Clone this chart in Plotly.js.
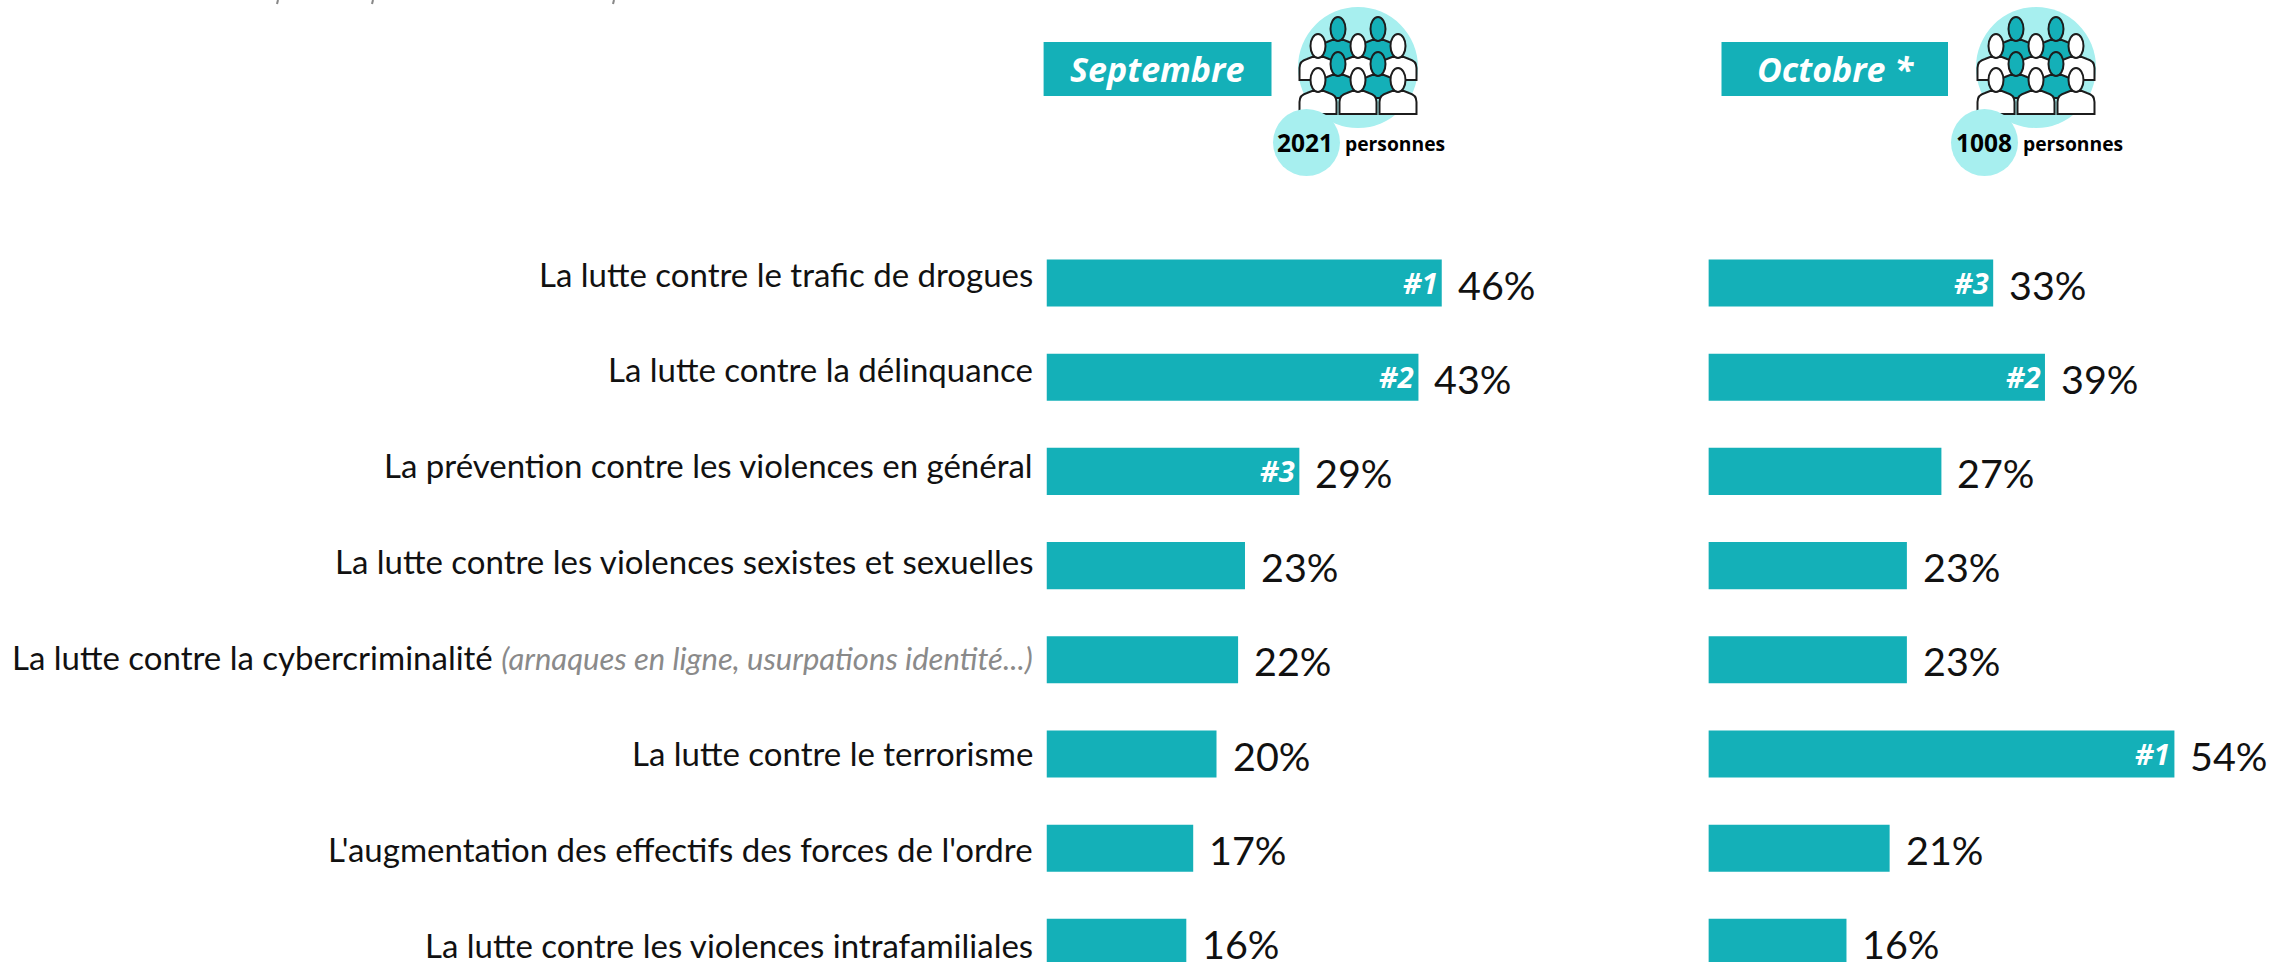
<!DOCTYPE html>
<html><head><meta charset="utf-8">
<script src="https://cdn.plot.ly/plotly-3.0.1.min.js"></script>
<style>html,body{margin:0;padding:0;background:#fff}#c{width:2276px;height:962px}svg text{font-variant-ligatures:none}</style></head>
<body><div id="c"></div>
<script>
const categories = ["La lutte contre le trafic de drogues","La lutte contre la délinquance","La prévention contre les violences en général","La lutte contre les violences sexistes et sexuelles","La lutte contre la cybercriminalité","La lutte contre le terrorisme","L'augmentation des effectifs des forces de l'ordre","La lutte contre les violences intrafamiliales"];
const categoryNotes = ["","","","","(arnaques en ligne, usurpations identité...)","","",""];
const septembre = [45.8,43.1,29.3,23,22.2,19.7,17,16.2];
const octobre = [33,39,27,23,23,54,21,16];
const rangSeptembre = ["#1","#2","#3","","","","",""];
const rangOctobre = ["#3","#2","","","","#1","",""];
const panels = ["Septembre","Octobre *"];
const effectifs = ["2021","1008"];

const W=2276,H=962,TEAL="#14B0B8",LIGHT="#A7EFEF",INK="#1c1c1c";
const FONT="Lato,sans-serif", NUM="Lato,sans-serif", BOLD="'Open Sans',sans-serif";
const PXPER=8.63;
const px=x=>x/W, py=y=>1-y/H;
const P=(x,y)=>px(x).toFixed(5)+","+py(y).toFixed(5);
function ell(cx,cy,rx,ry){const k=.5523;
 return `M${P(cx-rx,cy)} C${P(cx-rx,cy-k*ry)} ${P(cx-k*rx,cy-ry)} ${P(cx,cy-ry)} C${P(cx+k*rx,cy-ry)} ${P(cx+rx,cy-k*ry)} ${P(cx+rx,cy)} C${P(cx+rx,cy+k*ry)} ${P(cx+k*rx,cy+ry)} ${P(cx,cy+ry)} C${P(cx-k*rx,cy+ry)} ${P(cx-rx,cy+k*ry)} ${P(cx-rx,cy)} Z`;}
function person(cx,top,fill,shapes){
 const headB=top+23, b=top+46;
 shapes.push({type:"path",xref:"paper",yref:"paper",fillcolor:fill,line:{color:INK,width:2},
  path:`M${P(cx-18.5,b)} L${P(cx-18.5,headB+11)} C${P(cx-18.5,headB+5)} ${P(cx-15,headB+3)} ${P(cx-11,headB+2)} L${P(cx-6,headB)} L${P(cx+6,headB)} L${P(cx+11,headB+2)} C${P(cx+15,headB+3)} ${P(cx+18.5,headB+5)} ${P(cx+18.5,headB+11)} L${P(cx+18.5,b)} Z`});
 shapes.push({type:"path",xref:"paper",yref:"paper",fillcolor:fill,line:{color:INK,width:2},path:ell(cx,top+12,7.5,12)});
}
function icon(cx,shapes){
 const c=(x0,y0,x1,y1)=>shapes.push({type:"circle",xref:"paper",yref:"paper",x0:px(x0),x1:px(x1),y0:py(y1),y1:py(y0),fillcolor:LIGHT,line:{width:0}});
 c(cx-60,7,cx+60,128);
 [[17,[-20,20],TEAL],[34,[-40,0,40],"#fff"],[52,[-20,20],TEAL],[68,[-40,0,40],"#fff"]].forEach(([t,xs,f])=>xs.forEach(d=>person(cx+d,t,f,shapes)));
 c(cx-85,109,cx-18,176);
}
const shapes=[];
[[1043.6,1271.5],[1721.5,1948]].forEach(([a,b])=>shapes.push({type:"rect",xref:"paper",yref:"paper",x0:px(a),x1:px(b),y0:py(96),y1:py(42),fillcolor:TEAL,line:{width:0}}));
icon(1358,shapes); icon(2036,shapes);
[277,372,613].forEach(x=>shapes.push({type:"line",xref:"paper",yref:"paper",x0:px(x+1),x1:px(x),y0:py(0),y1:py(4),line:{color:"#888",width:2}}));

const annotations=[];
categories.forEach((c,i)=>{
 const t=categoryNotes[i]?`${c} <span style="color:#8a8a8a;font-size:31px"><i>${categoryNotes[i]}</i></span>`:c;
 annotations.push({xref:"paper",yref:"y",x:px(1033.5),y:c,text:t,showarrow:false,xanchor:"right",yanchor:"middle",borderpad:0,yshift:9.5-i*1.66,font:{family:FONT,size:33,color:"#111"}});
});
function labels(vals,ranks,xref){
 vals.forEach((v,i)=>{
  annotations.push({xref,yref:"y",x:v,y:categories[i],text:Math.round(v)+"%",showarrow:false,xanchor:"left",yanchor:"middle",xshift:14,yshift:-1,font:{family:NUM,size:39.5,color:"#111"}});
  if(ranks[i])annotations.push({xref,yref:"y",x:v,y:categories[i],text:"<b><i>"+ranks[i]+"</i></b>",showarrow:false,xanchor:"right",yanchor:"middle",xshift:-2,yshift:1,font:{family:BOLD,size:29,color:"#fff"}});
 });
}
labels(septembre,rangSeptembre,"x"); labels(octobre,rangOctobre,"x2");
const head=(text,x,y,size,color,b,i)=>annotations.push({xref:"paper",yref:"paper",x:px(x),y:py(y),xanchor:"center",yanchor:"middle",showarrow:false,text:(b?"<b>":"")+(i?"<i>":"")+text+(i?"</i>":"")+(b?"</b>":""),font:{family:BOLD,size,color}});
head(panels[0],1157,69,34,"#fff",1,1); head(panels[1],1835,69,34,"#fff",1,1);
head(effectifs[0],1305,142,24.5,"#000",1,0); head(effectifs[1],1984,142,24.5,"#000",1,0);
head("personnes",1395,143,19.3,"#000",1,0); head("personnes",2073,143,19.3,"#000",1,0);

const bar=(x,xa)=>({type:"bar",orientation:"h",y:categories,x,xaxis:xa,yaxis:"y",marker:{color:TEAL},hoverinfo:"skip",showlegend:false});
const xax=(a,b)=>({domain:[px(a),px(b)],range:[0,(b-a)/PXPER],visible:false,fixedrange:true});
Plotly.newPlot("c",[bar(septembre,"x"),bar(octobre,"x2")],{
 width:W,height:H,margin:{l:0,r:0,t:0,b:0,pad:0},paper_bgcolor:"#fff",plot_bgcolor:"rgba(0,0,0,0)",bargap:.5,showlegend:false,
 xaxis:xax(1046.5,1680),xaxis2:xax(1708.4,2276),
 yaxis:{domain:[0,py(235.9)],range:[7.208,-.5],type:"category",categoryorder:"array",categoryarray:categories,tickmode:"array",tickvals:categories,
  showticklabels:false,ticks:"",showline:false,showgrid:false,zeroline:false,automargin:false,fixedrange:true},
 shapes,annotations
},{displayModeBar:false,staticPlot:true});
</script></body></html>
